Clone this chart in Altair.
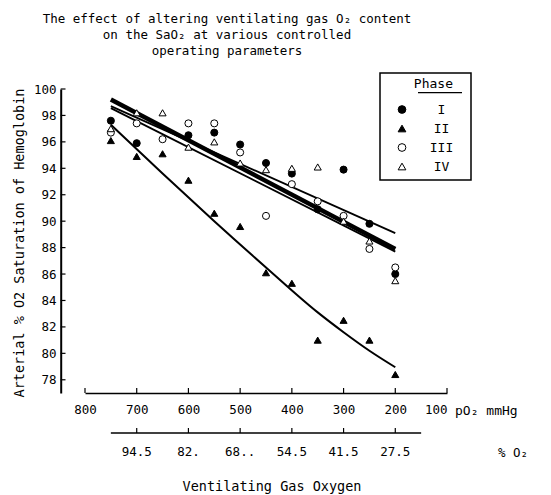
import altair as alt
import pandas as pd

FONT = "DejaVu Sans Mono"

# ---- data ----
po2 = [750, 700, 650, 600, 550, 500, 450, 400, 350, 300, 250, 200]
phase_I = [97.6, 95.9, None, 96.5, 96.7, 95.8, 94.4, 93.6, 90.9, 93.9, 89.8, 86.0]
phase_II = [96.1, 94.9, 95.1, 93.1, 90.6, 89.6, 86.1, 85.3, 81.0, 82.5, 81.0, 78.4]
phase_III = [96.7, 97.4, 96.2, 97.4, 97.4, 95.2, 90.4, 92.8, 91.5, 90.4, 87.9, 86.5]
phase_IV = [97.0, 98.2, 98.2, 95.6, 96.0, 94.4, 93.9, 94.0, 94.1, 90.0, 88.5, 85.5]

phases = ["I", "II", "III", "IV"]
shapes = ["circle", "triangle-up", "circle", "triangle-up"]
fills = ["black", "black", "white", "white"]
strokes = ["black", "black", "black", "black"]

# fitted lines (end points)
fit_x = [750, 200]
fit_thick = [99.2, 87.9]
fit_thin_a = [98.55, 87.7]
fit_thin_b = [98.7, 89.1]

# phase II curve
curve_x = [750, 650, 550, 450, 350, 300, 250, 200]
curve_y = [97.3, 93.6, 90.0, 86.5, 83.1, 81.6, 80.2, 78.95]

po2_ticks = [800, 700, 600, 500, 400, 300, 200, 100]
pct_ticks = [700, 600, 500, 400, 300, 200]
pct_labels = ["94.5", "82.", "68..", "54.5", "41.5", "27.5"]
pct_line = [750, 150]
y_ticks = list(range(78, 101, 2))

title_lines = [
    "The effect of altering ventilating gas O\u2082 content",
    "on the SaO\u2082 at various controlled",
    "operating parameters",
]

# ---- tables ----
rows = []
for name, vals in zip(phases, [phase_I, phase_II, phase_III, phase_IV]):
    for x, v in zip(po2, vals):
        if v is not None:
            rows.append({"pO2": x, "sat": v, "phase": name})
pts = pd.DataFrame(rows)

thick_df = pd.DataFrame({"pO2": fit_x, "sat": fit_thick})
thin_rows = []
for name, vals in [("a", fit_thin_a), ("b", fit_thin_b)]:
    for x, v in zip(fit_x, vals):
        thin_rows.append({"pO2": x, "sat": v, "fit": name})
thin_df = pd.DataFrame(thin_rows)
curve_df = pd.DataFrame({"pO2": curve_x, "sat": curve_y})

W, H = 362, 304

xs = alt.Scale(domain=[800, 100], nice=False, zero=False)
ys = alt.Scale(domain=[77, 100], nice=False, zero=False)

x_axis = alt.Axis(
    values=po2_ticks, ticks=False, tickSize=0, labelPadding=10.5, grid=False,
    title=None, domainColor="black", domainWidth=1.5, labelFont=FONT,
    labelFontSize=12.5, labelColor="black", format="d", labelFlush=False,
    labelAlign={"condition": {"test": "datum.value == 100", "value": "right"}, "value": "center"},
)
y_axis = alt.Axis(
    values=y_ticks, ticks=False, tickSize=0, offset=24.3, labelPadding=4.7,
    grid=False, title=None, domainColor="black", domainWidth=2,
    labelFont=FONT, labelFontSize=12.5, labelColor="black", labelFlush=False,
)

X = lambda f: alt.X(f, scale=xs, axis=x_axis)
Y = lambda f: alt.Y(f, scale=ys, axis=y_axis)

legend = alt.Legend(
    title="Phase", orient="none", legendX=298, legendY=-16,
    direction="vertical", padding=5, strokeColor="transparent", titleFont=FONT,
    titleFontSize=13, titleFontWeight="normal", titleColor="black",
    titleAnchor="end", titlePadding=12, labelFont=FONT, labelFontSize=13,
    labelColor="black", labelAlign="center", labelOffset=33,
    rowPadding=5, symbolSize=60, symbolStrokeColor="black",
    symbolStrokeWidth=1, symbolOffset=7.5,
)

thick = alt.Chart(thick_df).mark_line(color="black", strokeWidth=4.5).encode(
    x=X("pO2:Q"), y=Y("sat:Q"))
thin = alt.Chart(thin_df).mark_line(color="black", strokeWidth=1.8).encode(
    x=X("pO2:Q"), y=Y("sat:Q"), detail="fit:N")
curve = alt.Chart(curve_df).mark_line(color="black", strokeWidth=2, interpolate="monotone").encode(
    x=X("pO2:Q"), y=Y("sat:Q"))

points = alt.Chart(pts).mark_point(opacity=1, strokeWidth=1, size=50).encode(
    x=X("pO2:Q"), y=Y("sat:Q"),
    shape=alt.Shape("phase:N", scale=alt.Scale(domain=phases, range=shapes), legend=legend),
    fill=alt.Fill("phase:N", scale=alt.Scale(domain=phases, range=fills), legend=legend),
    stroke=alt.Stroke("phase:N", scale=alt.Scale(domain=phases, range=strokes), legend=legend),
)

xticks = alt.Chart(pd.DataFrame({"pO2": po2_ticks})).mark_rule(color="black", strokeWidth=1.2).encode(
    x=X("pO2:Q"), y=alt.value(H), y2=alt.value(H - 5))
yticks = alt.Chart(pd.DataFrame({"sat": y_ticks})).mark_rule(color="black", strokeWidth=1.2).encode(
    y=Y("sat:Q"), x=alt.value(-24.3), x2=alt.value(-19.5))

pct_dom = alt.Chart(pd.DataFrame({"pO2": [pct_line[0]], "pO2_end": [pct_line[1]]})).mark_rule(
    color="black", strokeWidth=1.5).encode(x=X("pO2:Q"), x2="pO2_end:Q", y=alt.value(H + 40))
pct_tk = alt.Chart(pd.DataFrame({"pO2": pct_ticks})).mark_rule(color="black", strokeWidth=1.2).encode(
    x=X("pO2:Q"), y=alt.value(H + 40), y2=alt.value(H + 35))
pct_txt = alt.Chart(pd.DataFrame({"pO2": pct_ticks, "label": pct_labels})).mark_text(
    font=FONT, fontSize=12.5, color="black", baseline="middle").encode(
    x=X("pO2:Q"), y=alt.value(H + 58.5), text="label:N")

one = pd.DataFrame({"a": [0]})

def label(txt, x, y, size=12.5, align="center", angle=0):
    return alt.Chart(one).mark_text(
        text=txt, font=FONT, fontSize=size, color="black", align=align,
        baseline="middle", angle=angle).encode(x=alt.value(x), y=alt.value(y))

title = alt.Chart(one).mark_text(
    text="\n".join(title_lines), lineBreak="\n", lineHeight=16, font=FONT,
    fontSize=12.5, color="black", align="center", baseline="middle").encode(
    x=alt.value(142), y=alt.value(-70))

# legend frame and the underline below "Phase"
legend_box = alt.Chart(one).mark_rect(filled=False, stroke="black", strokeWidth=1.5).encode(
    x=alt.value(295), x2=alt.value(386), y=alt.value(-16), y2=alt.value(91))
underline = alt.Chart(one).mark_rule(color="black", strokeWidth=1.2).encode(
    x=alt.value(333), x2=alt.value(377), y=alt.value(3.7))

chart = alt.layer(
    thin, thick, curve, points, xticks, yticks, pct_dom, pct_tk, pct_txt,
    label("pO\u2082 mmHg", 370, 321.7, size=13, align="left"),
    label("% O\u2082", 428, 364),
    label("Ventilating Gas Oxygen", 187, 398.3, size=13.5),
    label("Arterial % O2 Saturation of Hemoglobin", -65, 154, size=13.5, angle=270),
    title, legend_box, underline,
).properties(
    width=W, height=H,
    autosize=alt.AutoSizeParams(type="none"),
    padding={"left": 77, "top": 81, "right": 96, "bottom": 102},
).configure_view(strokeWidth=0)

chart.save("out.html", embed_options={"renderer": "svg", "actions": False})
